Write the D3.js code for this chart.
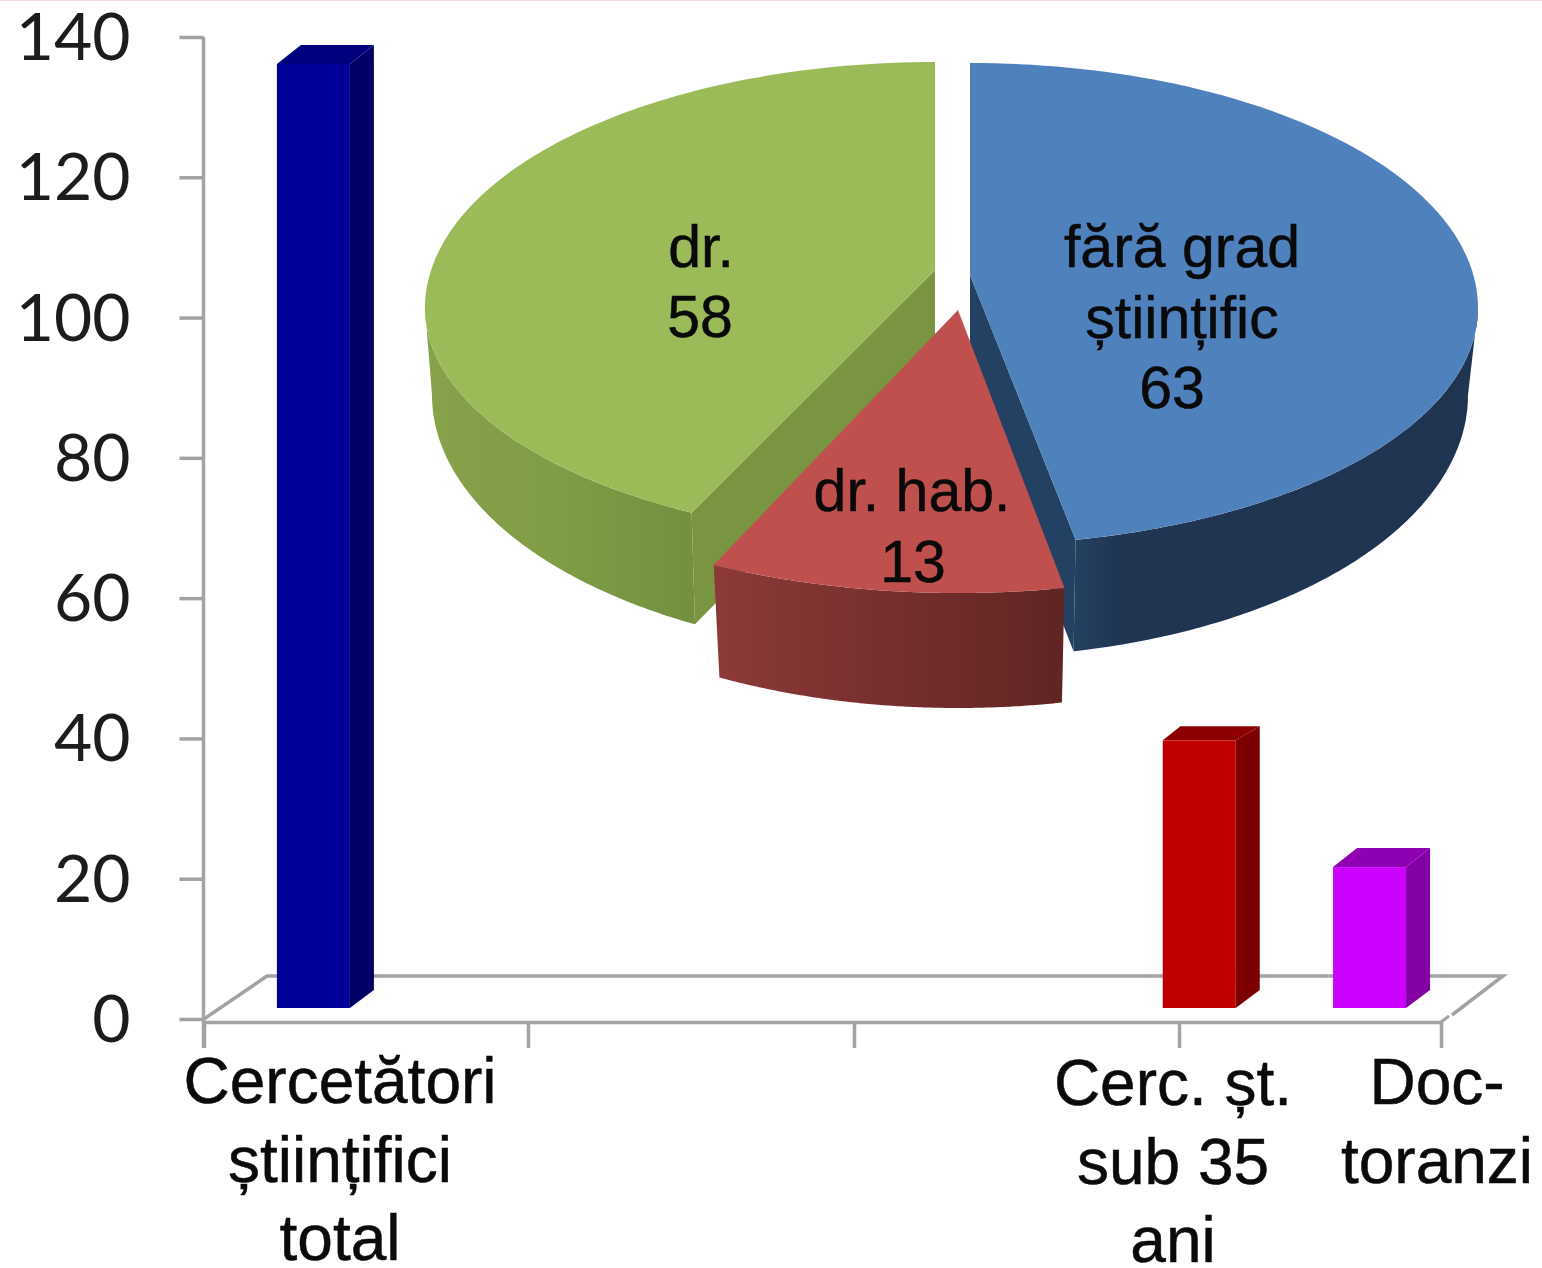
<!DOCTYPE html>
<html><head><meta charset="utf-8">
<script src="https://cdn.jsdelivr.net/npm/d3@7"></script>
<style>html,body{margin:0;padding:0;background:#fff;overflow:hidden}svg{display:block}</style>
</head><body><svg id="c" width="1542" height="1268"></svg>
<script>
// ---- data ----
const yTicks = [0, 20, 40, 60, 80, 100, 120, 140];
const barCategories = [["Cercetători", "științifici", "total"], ["Cerc. șt.", "sub 35", "ani"], ["Doc-", "toranzi"]];
const barValues = [134, 38, 20];
const sliceNames = [["fără grad", "științific"], ["dr. hab."], ["dr."]];
const sliceValues = [63, 13, 58];

// ---- layout / style (not data) ----
const barSlots = [0.225, 2.95, 3.588];
const barColors = [
  {front:"#000099", side:"#000068", top:"#00007e", rise:19},
  {front:"#c00000", side:"#7c0000", top:"#8c0000", rise:14},
  {front:"#cc00ff", side:"#8300a3", top:"#8e00b2", rise:19}];
const labelCenters = [340, 1173, 1437];
const labelBase = [[1103,1182,1260],[1105,1184,1262],[1104,1183]];
const sliceGeom = [
 {ax:970,ay:275,cx:970,cy:308,rx:508,ryT:245,ryB:237,cyW:395,rxW:498,ryW:262,low:110,
  fill:"#4f81bd",wall:"url(#gBlue)",inner:"#234163",lx:[1182,1182,1172],ly:[267,338,408]},
 {ax:958,ay:310,cx:958,cy:361,rx:512,ryT:232,ryB:232,cyW:456,rxW:500,ryW:252,low:110,
  fill:"#c0504d",wall:"url(#gRed)",inner:"#7a2f2d",lx:[912,913],ly:[511,582]},
 {ax:935,ay:270,cx:935,cy:308,rx:510,ryT:246,ryB:233,cyW:395,rxW:503,ryW:261,low:110,
  fill:"#9bbb59",wall:"url(#gGreen)",inner:"#7a9542",lx:[701,700],ly:[267,337]}];

const svg = d3.select("#c");
const defs = svg.append("defs");
function grad(id, stops){
  const g = defs.append("linearGradient").attr("id",id).attr("x1",0).attr("x2",1).attr("y1",0).attr("y2",0);
  stops.forEach(s=>g.append("stop").attr("offset",s[0]).attr("stop-color",s[1]));
}
grad("gBlue",[[0,"#24415f"],[0.12,"#1f3552"],[1,"#1e3450"]]);
grad("gRed",[[0,"#8c3a38"],[0.55,"#742e2c"],[1,"#5f2523"]]);
grad("gGreen",[[0,"#86a24b"],[0.5,"#7f9c46"],[1,"#73903f"]]);

svg.append("rect").attr("x",0).attr("y",0).attr("width",1542).attr("height",1).attr("fill","#fcd9d9");

// ---- scales ----
const y = d3.scaleLinear().domain([0,140]).range([1019,37]);
const yBar = d3.scaleLinear().domain([0,140]).range([1008,21.7]);
const x = d3.scaleLinear().domain([0,1,2,3,4]).range([204,528,854,1179,1441]);
const barW = 73, barDx = 24, barDy = 18;
const grey = "#a3a3a3";

// ---- floor ----
const line = d3.line();
svg.append("path").attr("d", line([[x(0),y(0)],[267,976],[1503,976],[1452,1015]]))
  .attr("fill","none").attr("stroke",grey).attr("stroke-width",3.5);
svg.append("path").attr("d", line([[x(4),1022],[1449,1016]]))
  .attr("fill","none").attr("stroke",grey).attr("stroke-width",3);

// ---- axes ----
const ay = svg.append("g").attr("transform","translate(203.5,0)")
  .call(d3.axisLeft(y).tickValues(yTicks).tickSize(24).tickSizeOuter(0).tickPadding(49));
ay.selectAll("line,path").attr("stroke",grey).attr("stroke-width",3.5);
ay.selectAll("text").attr("font-family","Lato").attr("font-size",66).attr("fill","#1c1c1c").attr("dy","0.34em");
ay.select(".domain").attr("d", line([[0,y(140)],[0,1048]]));
const ax = svg.append("g").attr("transform","translate(0,1022)")
  .call(d3.axisBottom(x).tickValues([0,1,2,3,4]).tickSize(26).tickSizeOuter(0).tickFormat(""));
ax.selectAll("line,path").attr("stroke",grey).attr("stroke-width",3.5);

// ---- 3D bars ----
barValues.forEach((v,i)=>{
  const c = barColors[i], l = x(barSlots[i]), r = l + barW, t = yBar(v), b = yBar(0);
  const g = svg.append("g");
  g.append("path").attr("fill",c.side).attr("d", line([[r,t],[r+barDx,t-c.rise],[r+barDx,b-barDy],[r,b]])+"Z");
  g.append("path").attr("fill",c.top).attr("d", line([[l,t],[l+barDx*c.rise/19,t-c.rise],[r+barDx,t-c.rise],[r,t]])+"Z");
  g.append("rect").attr("x",l).attr("y",t).attr("width",barW).attr("height",b-t).attr("fill",c.front);
});

// ---- exploded 3D pie ----
const deg = r => r*180/Math.PI;
const arcs = d3.pie().sort(null)(sliceValues).map(d=>({startAngle:deg(d.startAngle), endAngle:deg(d.endAngle)}));
// the tilted view stretches the slices toward the viewer
const view = d3.scaleLinear().domain([0, arcs[0].endAngle, arcs[1].endAngle, 360]).range([0, 168, 208.5, 360]);
const rad = d => d*Math.PI/180;
const topPt = (g,a)=>{const t=rad(a),c=Math.cos(t);return [g.cx+g.rx*Math.sin(t), g.cy-(c>0?g.ryT:g.ryB)*c];};
const lowPt = (g,a)=>{const t=rad(a);return [g.cx+g.rxW*Math.sin(t), g.cyW-g.ryW*Math.cos(t)];};
const sweep = (a0,a1)=>d3.range(0,121).map(k=>a0+(a1-a0)*k/120);

function drawSlice(i){
  const g = sliceGeom[i], a0 = view(arcs[i].startAngle), a1 = view(arcs[i].endAngle);
  const s = svg.append("g");
  // inner cut faces
  [a0,a1].forEach(a=>{
    if(i===1 || a<1 || a>359) return;
    s.append("path").attr("fill",g.inner)
     .attr("d", line([[g.ax,g.ay],topPt(g,a),lowPt(g,a),[g.ax,g.ay+g.low]])+"Z");
  });
  // outer wall, only the part facing the viewer
  const w0 = Math.max(a0,90), w1 = Math.min(a1,270);
  if(w1>w0){
    const as = sweep(w0,w1);
    s.append("path").attr("fill",g.wall)
     .attr("d", line(as.map(a=>topPt(g,a)).concat(as.slice().reverse().map(a=>lowPt(g,a))))+"Z");
  }
  // top face
  s.append("path").attr("fill",g.fill)
   .attr("d", line([[g.ax,g.ay]].concat(sweep(a0,a1).map(a=>topPt(g,a))))+"Z");
  // label
  const lines = sliceNames[i].concat([String(sliceValues[i])]);
  lines.forEach((t,k)=>{
    s.append("text").attr("x",g.lx[k]).attr("y",g.ly[k]).attr("text-anchor","middle")
     .attr("font-family","Liberation Sans").attr("font-size",59).attr("fill","#0a0a0a")
     .attr("stroke","#0a0a0a").attr("stroke-width",0.5).text(t);
  });
}
[2,0,1].forEach(drawSlice);

// ---- category labels ----
barCategories.forEach((ls,i)=>{
  ls.forEach((t,k)=>{
    svg.append("text").attr("x",labelCenters[i]).attr("y",labelBase[i][k]).attr("text-anchor","middle")
      .attr("font-family","Liberation Sans").attr("font-size",64).attr("fill","#0a0a0a")
      .attr("stroke","#0a0a0a").attr("stroke-width",0.5).text(t);
  });
});
</script></body></html>
